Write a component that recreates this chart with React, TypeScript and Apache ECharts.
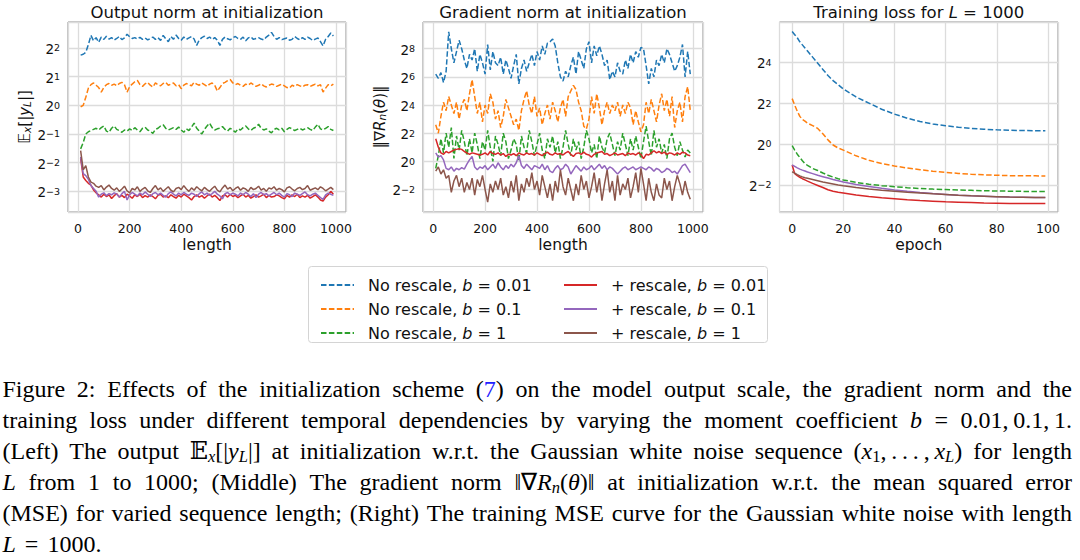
import React, { useEffect, useRef } from 'react';
import * as echarts from 'echarts';

// ---------- data (values are log2 of the plotted quantity) ----------
const lengths = [10,20,30,40,50,60,70,80,90,100,110,120,130,140,150,160,170,180,190,200,210,220,230,240,250,260,270,280,290,300,310,320,330,340,350,360,370,380,390,400,410,420,430,440,450,460,470,480,490,500,510,520,530,540,550,560,570,580,590,600,610,620,630,640,650,660,670,680,690,700,710,720,730,740,750,760,770,780,790,800,810,820,830,840,850,860,870,880,890,900,910,920,930,940,950,960,970,980,990];
const epochs = [0,1,2,3,4,5,6,8,10,12,14,16,18,20,25,30,35,40,45,50,55,60,65,70,75,80,85,90,95,99];

const seriesNames = ['No rescale, b = 0.01','No rescale, b = 0.1','No rescale, b = 1','+ rescale, b = 0.01','+ rescale, b = 0.1','+ rescale, b = 1'];
const seriesColors = ['#1f77b4','#ff7f0e','#2ca02c','#d62728','#9467bd','#8c564b'];

// Panel 1: output norm E_x[|y_L|] (log2)
const outNoRescale001 = [1.75,1.78,1.85,2.12,2.44,2.25,2.36,2.2,2.38,2.3,2.41,2.31,2.36,2.27,2.33,2.4,2.29,2.35,2.48,2.39,2.33,2.36,2.31,2.37,2.3,2.35,2.28,2.33,2.38,2.3,2.36,2.26,2.44,2.32,2.22,2.4,2.3,2.45,2.33,2.27,2.38,2.3,2.35,2.4,2.31,2.09,2.28,2.36,2.41,2.33,2.38,2.3,2.36,2.27,2.09,2.3,2.38,2.32,2.28,2.36,2.4,2.33,2.3,2.38,2.25,2.35,2.39,2.3,2.33,2.36,2.31,2.28,2.38,2.45,2.54,2.4,2.3,2.36,2.29,2.32,2.35,2.27,2.3,2.4,2.33,2.28,2.36,2.3,2.38,2.33,2.26,2.31,2.35,2.22,2.07,2.3,2.4,2.52,2.42];
const outNoRescale01 = [-0.05,0.0,0.28,0.6,0.72,0.78,0.7,0.62,0.46,0.62,0.72,0.76,0.7,0.74,0.68,0.76,0.8,0.72,0.46,0.65,0.74,0.82,0.87,0.72,0.66,0.75,0.8,0.7,0.64,0.78,0.72,0.68,0.76,0.8,0.7,0.74,0.78,0.68,0.72,0.58,0.7,0.76,0.72,0.68,0.8,0.74,0.7,0.78,0.72,0.66,0.74,0.78,0.7,0.5,0.62,0.76,0.8,0.86,0.9,0.78,0.72,0.76,0.7,0.66,0.74,0.7,0.78,0.72,0.66,0.7,0.75,0.68,0.64,0.7,0.74,0.72,0.66,0.7,0.74,0.68,0.62,0.6,0.7,0.66,0.72,0.68,0.64,0.7,0.72,0.66,0.7,0.74,0.68,0.72,0.46,0.6,0.72,0.68,0.74];
const outNoRescale1 = [-1.52,-1.3,-1.0,-0.92,-0.88,-0.84,-0.8,-0.86,-0.78,-0.72,-0.9,-0.94,-0.8,-0.72,-0.84,-0.88,-0.94,-0.86,-0.9,-0.82,-0.88,-0.78,-0.86,-0.92,-0.8,-0.76,-0.86,-0.9,-0.98,-0.84,-0.8,-0.72,-0.68,-0.8,-0.86,-0.82,-0.78,-0.84,-0.76,-0.86,-0.94,-0.82,-0.88,-0.76,-0.62,-0.8,-0.9,-1.0,-0.84,-0.72,-0.62,-0.78,-0.86,-0.82,-0.8,-0.74,-0.84,-0.9,-0.8,-0.86,-0.94,-0.82,-0.86,-0.78,-0.72,-0.82,-0.88,-0.8,-0.76,-0.66,-0.8,-0.86,-0.82,-0.9,-0.96,-0.84,-0.8,-0.86,-0.8,-0.92,-0.84,-0.78,-0.82,-0.88,-0.84,-0.8,-0.86,-0.82,-0.78,-0.84,-0.88,-0.76,-0.66,-0.82,-0.86,-0.8,-0.74,-0.84,-0.88];
const outRescale001 = [-1.85,-2.5,-2.62,-2.72,-2.78,-2.95,-3.05,-3.12,-3.2,-3.1,-3.18,-3.12,-3.25,-3.15,-3.08,-3.2,-3.14,-3.22,-3.1,-3.16,-3.24,-3.12,-3.18,-3.1,-3.22,-3.15,-3.2,-3.12,-3.18,-3.26,-3.14,-3.1,-3.2,-3.16,-3.22,-3.12,-3.18,-3.24,-3.14,-3.2,-3.1,-3.16,-3.22,-3.3,-3.18,-3.12,-3.2,-3.15,-3.24,-3.16,-3.1,-3.2,-3.14,-3.22,-3.32,-3.16,-3.12,-3.2,-3.1,-3.18,-3.14,-3.22,-3.16,-3.1,-3.2,-3.14,-3.24,-3.18,-3.12,-3.2,-3.16,-3.1,-3.22,-3.14,-3.2,-3.18,-3.12,-3.16,-3.22,-3.26,-3.14,-3.2,-3.12,-3.18,-3.1,-3.22,-3.16,-3.2,-3.14,-3.24,-3.18,-3.12,-3.2,-3.3,-3.34,-3.2,-3.12,-3.0,-3.1];
const outRescale01 = [-1.8,-2.38,-2.45,-2.58,-2.8,-2.9,-3.0,-3.2,-3.1,-3.05,-3.15,-3.08,-3.12,-3.05,-3.1,-3.2,-3.08,-3.0,-3.3,-3.12,-3.04,-3.1,-3.16,-3.06,-3.12,-3.02,-3.1,-3.18,-3.08,-3.04,-3.12,-3.06,-3.14,-3.2,-3.08,-3.02,-3.1,-3.16,-3.06,-3.12,-3.04,-3.1,-3.14,-3.06,-3.1,-3.18,-3.08,-3.02,-3.12,-3.06,-3.14,-3.08,-3.0,-3.1,-3.16,-3.26,-3.08,-3.04,-3.12,-3.06,-3.1,-3.16,-3.06,-3.12,-3.04,-3.1,-3.18,-3.08,-3.22,-3.1,-3.04,-3.12,-3.08,-3.16,-3.1,-3.04,-3.12,-3.06,-3.14,-3.2,-3.08,-3.12,-3.18,-3.06,-3.1,-3.14,-3.08,-3.02,-3.12,-3.16,-3.1,-3.06,-3.14,-3.22,-3.28,-3.12,-3.06,-3.1,-3.14];
const outRescale1 = [-1.58,-2.25,-2.1,-2.5,-2.68,-2.72,-2.82,-2.86,-2.8,-2.95,-2.85,-2.78,-2.9,-2.96,-2.88,-3.0,-2.92,-2.82,-2.98,-3.05,-2.9,-2.95,-2.84,-3.0,-2.92,-2.86,-2.98,-3.04,-2.9,-2.8,-2.95,-2.88,-3.0,-2.92,-2.84,-2.96,-3.02,-2.9,-2.86,-2.94,-2.8,-2.92,-3.0,-2.88,-2.96,-2.84,-2.92,-2.98,-2.86,-2.94,-3.0,-2.9,-2.82,-2.96,-3.02,-2.88,-2.78,-2.92,-2.86,-2.98,-2.9,-2.84,-2.96,-2.88,-2.92,-3.0,-2.86,-2.94,-2.9,-2.82,-2.96,-2.9,-3.0,-2.88,-2.92,-2.84,-2.96,-2.9,-2.94,-3.02,-2.88,-2.84,-2.92,-2.98,-2.9,-2.86,-2.94,-2.9,-2.8,-2.96,-2.92,-2.88,-2.94,-2.84,-2.9,-2.98,-2.92,-2.86,-2.94];

// Panel 2: gradient norm ||grad R_n(theta)|| (log2)
const gradNoRescale001 = [6.2,5.9,6.3,5.6,6.4,9.2,8.0,7.0,7.8,8.6,8.0,7.2,6.6,7.6,7.2,8.0,6.4,7.6,7.0,6.2,8.3,6.5,7.8,7.0,6.8,7.4,6.2,7.2,6.6,5.9,6.8,7.6,5.5,6.6,7.2,6.4,7.0,7.6,6.8,7.8,7.2,8.2,7.6,8.4,8.5,8.7,8.2,7.0,6.0,5.7,6.4,6.0,6.8,7.4,6.2,7.8,7.2,6.6,8.0,8.5,7.0,8.2,7.5,8.2,7.6,6.8,7.2,5.8,6.4,6.0,7.0,6.4,6.2,7.2,6.6,7.6,7.0,7.8,7.4,8.1,8.0,6.8,5.5,6.6,6.0,7.2,6.8,7.6,7.0,8.0,7.6,7.0,6.4,6.8,7.4,8.3,6.0,7.8,6.2];
const gradNoRescale01 = [2.6,2.0,3.2,4.2,3.6,4.6,4.0,3.4,4.2,3.0,4.0,4.4,3.6,4.8,5.8,4.6,3.4,4.2,2.8,4.0,3.4,4.8,4.2,3.0,3.6,2.4,3.2,4.4,3.8,3.2,2.6,3.0,2.2,3.6,4.4,5.0,4.0,3.4,4.6,3.2,3.8,2.6,3.4,4.0,3.0,4.2,3.6,2.8,3.8,4.4,3.2,4.6,5.0,5.4,5.1,4.2,3.6,2.5,2.3,3.0,4.6,3.4,4.8,3.8,2.6,3.6,4.2,3.4,4.0,3.6,4.2,3.2,4.0,3.4,4.2,3.8,2.6,3.6,2.8,2.1,2.6,4.2,3.4,4.4,3.6,2.8,4.0,4.8,3.6,4.4,3.2,4.6,2.4,3.6,4.2,2.8,4.6,5.3,3.6];
const gradNoRescale1 = [-0.5,0.4,1.6,0.6,2.0,1.0,2.4,0.2,1.8,0.8,2.2,1.4,0.4,1.6,0.6,2.0,1.2,0.2,1.4,0.8,2.2,1.0,0.0,1.8,1.2,0.4,2.0,1.4,0.2,0.8,1.6,1.2,0.0,1.8,1.0,0.6,2.2,1.4,0.4,1.2,2.0,0.8,0.2,1.6,1.0,1.8,0.6,1.4,0.2,1.0,2.2,1.2,0.4,1.6,0.8,1.4,0.2,1.0,2.2,1.6,0.6,1.2,0.2,1.8,1.0,0.6,1.6,2.0,1.2,0.4,1.4,0.8,2.0,1.2,0.4,1.6,0.8,1.8,1.0,0.2,1.4,2.5,1.4,0.4,2.2,1.0,1.6,0.6,1.2,0.2,1.6,2.0,1.0,0.4,1.4,0.8,0.3,0.8,0.6];
const gradRescale001 = [1.6,1.0,0.6,0.5,0.7,0.6,0.7,0.8,0.85,0.9,0.85,0.7,0.6,0.5,0.6,0.55,0.5,0.45,0.5,0.6,0.45,0.7,0.55,0.5,0.6,0.45,0.55,0.35,0.5,0.45,0.55,0.4,0.6,0.5,0.45,0.6,0.5,0.55,0.45,0.6,0.5,0.4,0.55,0.65,0.5,0.45,0.6,0.5,0.55,0.45,0.6,0.7,0.5,0.35,0.55,0.6,0.5,0.65,0.5,0.45,0.3,0.5,0.6,0.65,0.7,0.5,0.55,0.4,0.5,0.6,0.45,0.5,0.55,0.4,0.6,0.5,0.55,0.45,0.6,0.5,0.2,0.5,0.45,0.6,0.75,0.6,0.7,0.55,0.65,0.5,0.6,0.55,0.45,0.6,0.5,0.65,0.6,0.45,0.4];
const gradRescale01 = [0.6,0.3,0.4,0.1,-0.5,-0.6,-0.4,-0.7,-0.5,-0.6,-0.45,-0.55,-0.2,0.1,0.35,-0.4,-0.6,-0.4,-0.5,-0.3,-0.6,-0.4,-0.2,-0.5,-0.1,-0.4,-0.6,-0.3,-0.5,-0.2,-0.4,-0.1,0.4,-0.3,-0.5,-0.2,-0.4,-0.6,-0.3,-0.4,-0.5,-0.2,-0.6,-0.3,-0.7,-0.8,-0.5,-0.3,-0.6,-0.5,-0.2,-0.4,-0.9,-0.6,-0.3,-0.5,-0.7,-0.4,-0.6,-0.5,-0.3,-0.6,-0.4,-0.2,-0.5,-0.3,-0.6,-0.4,-0.5,-0.7,-0.9,-0.7,-0.5,-0.4,-0.6,-0.5,-0.4,-0.6,-0.5,-0.4,-0.5,-0.6,-0.4,-0.5,-0.7,-0.5,-0.6,-0.8,-0.7,-0.5,-0.6,-0.8,-0.7,-0.9,-0.6,-0.3,-0.2,-0.5,-0.8];
const gradRescale1 = [-0.7,-0.4,-0.9,-0.6,-1.2,-1.0,-2.2,-1.4,-1.0,-1.8,-1.2,-2.2,-1.5,-2.0,-1.2,-2.4,-1.3,-1.8,-1.0,-2.0,-2.9,-1.6,-2.2,-1.4,-2.0,-1.2,-2.4,-1.8,-2.6,-1.4,-2.2,-1.0,-2.8,-1.6,-2.2,-1.2,-1.8,-0.8,-2.0,-1.4,-2.4,-1.0,-1.8,-2.6,-1.6,-2.8,-1.4,-2.2,-0.6,-1.8,-2.4,-1.2,-2.0,-2.8,-1.6,-2.4,-1.0,-2.0,-1.4,-2.6,-1.8,-0.8,-2.2,-1.2,-2.8,-1.6,-0.6,-2.2,-1.4,-2.8,-1.0,-2.4,-1.6,-2.0,-1.2,-2.6,-1.8,-0.8,-2.2,-0.5,-1.6,-2.8,-1.2,-2.2,-2.8,-1.6,-2.4,-2.6,-1.2,-2.0,-1.4,-2.8,-1.8,-1.0,-1.6,-2.4,-1.4,-2.2,-2.7];

// Panel 3: training loss for L = 1000 (log2)
const lossNoRescale001 = [5.5,5.35,5.2,5.0,4.85,4.7,4.55,4.25,3.95,3.65,3.35,3.1,2.9,2.69,2.3,2.0,1.7,1.46,1.26,1.1,0.98,0.89,0.82,0.76,0.72,0.69,0.67,0.66,0.65,0.65];
const lossNoRescale01 = [2.22,1.9,1.6,1.35,1.2,1.12,1.02,0.9,0.76,0.5,0.2,-0.05,-0.2,-0.3,-0.58,-0.8,-0.96,-1.08,-1.18,-1.26,-1.33,-1.39,-1.44,-1.48,-1.51,-1.53,-1.55,-1.56,-1.56,-1.57];
const lossNoRescale1 = [-0.08,-0.3,-0.5,-0.66,-0.82,-0.96,-1.05,-1.2,-1.3,-1.42,-1.53,-1.62,-1.7,-1.76,-1.88,-1.97,-2.04,-2.09,-2.14,-2.18,-2.21,-2.23,-2.25,-2.27,-2.29,-2.3,-2.31,-2.32,-2.33,-2.33];
const lossRescale001 = [-1.03,-1.45,-1.55,-1.63,-1.7,-1.76,-1.82,-1.93,-2.03,-2.13,-2.24,-2.31,-2.36,-2.4,-2.5,-2.57,-2.63,-2.68,-2.73,-2.77,-2.8,-2.83,-2.85,-2.87,-2.89,-2.9,-2.91,-2.92,-2.92,-2.92];
const lossRescale01 = [-1.03,-1.1,-1.17,-1.23,-1.28,-1.32,-1.37,-1.45,-1.53,-1.6,-1.67,-1.74,-1.8,-1.86,-1.98,-2.08,-2.17,-2.25,-2.32,-2.38,-2.43,-2.47,-2.51,-2.54,-2.56,-2.58,-2.6,-2.61,-2.62,-2.62];
const lossRescale1 = [-1.36,-1.43,-1.5,-1.56,-1.61,-1.65,-1.68,-1.74,-1.8,-1.86,-1.91,-1.96,-2.01,-2.05,-2.13,-2.2,-2.26,-2.31,-2.36,-2.4,-2.44,-2.47,-2.51,-2.54,-2.56,-2.58,-2.6,-2.61,-2.62,-2.62];

const panelTitles = ['Output norm at initialization', 'Gradient norm at initialization', 'Training loss for {i|L} = 1000'];
const captionLines = [
  'Figure 2: Effects of the initialization scheme ({bl|7}) on the model output scale, the gradient norm and the',
  'training loss under different temporal dependencies by varying the moment coefficient {i|b} = 0.01,\u20090.1,\u20091.',
  '(Left) The output {bb|\u{1D53C}}{isub|x}[|{i|y}{isub|L}|] at initialization w.r.t. the Gaussian white noise sequence ({i|x}{sub|1},\u2009.\u2009.\u2009.\u2009,\u2009{i|x}{isub|L}) for length',
  '{i|L} from 1 to 1000; (Middle) The gradient norm \u2016\u2207{i|R}{isub|n}({i|\u03B8})\u2016 at initialization w.r.t. the mean squared error',
  '(MSE) for varied sequence length; (Right) The training MSE curve for the Gaussian white noise with length',
  '{i|L} = 1000.',
];

// ---------- helpers ----------
const SANS = 'DejaVu Sans';
const SERIF = 'Liberation Serif';
const CAP_FS = 24;
const CAP_SUB = 16.5;
const CAP_LH = 28;

function parseRich(s: string) {
  const out: { tag: string; text: string }[] = [];
  const re = /\{(\w+)\|([^}]*)\}|([^{]+)/g;
  let m: RegExpExecArray | null;
  while ((m = re.exec(s))) {
    if (m[1]) out.push({ tag: m[1], text: m[2] });
    else out.push({ tag: 'n', text: m[3] });
  }
  return out;
}

const capFonts: Record<string, string> = {
  n: `${CAP_FS}px "${SERIF}"`,
  bl: `${CAP_FS}px "${SERIF}"`,
  i: `italic ${CAP_FS}px "${SERIF}"`,
  sub: `${CAP_SUB}px "${SERIF}"`,
  isub: `italic ${CAP_SUB}px "${SERIF}"`,
  bb: `${CAP_FS}px "DejaVu Serif"`,
};

const capRich = {
  i: { fontStyle: 'italic', fontSize: CAP_FS, fontFamily: SERIF, lineHeight: CAP_LH, fill: '#000' },
  bl: { fontSize: CAP_FS, fontFamily: SERIF, lineHeight: CAP_LH, fill: '#2020ff' },
  bb: { fontSize: CAP_FS, fontFamily: 'DejaVu Serif', lineHeight: CAP_LH, fill: '#000' },
  sub: { fontSize: CAP_SUB, fontFamily: SERIF, lineHeight: CAP_SUB, verticalAlign: 'bottom', fill: '#000' },
  isub: { fontStyle: 'italic', fontSize: CAP_SUB, fontFamily: SERIF, lineHeight: CAP_SUB, verticalAlign: 'bottom', fill: '#000' },
};

function buildCaption(): any[] {
  const ctx = document.createElement('canvas').getContext('2d')!;
  const measure = (word: string) =>
    parseRich(word).reduce((w, seg) => {
      ctx.font = capFonts[seg.tag] || capFonts.n;
      return w + ctx.measureText(seg.text).width;
    }, 0);
  const x0 = 2.5;
  const x1 = 1072;
  const els: any[] = [];
  captionLines.forEach((line, li) => {
    const y = 389 + li * 31;
    const last = li === captionLines.length - 1;
    const words = line.split(/ +/);
    const widths = words.map(measure);
    const total = widths.reduce((a, b) => a + b, 0);
    const gap = last ? 9 : words.length < 2 ? 0 : (x1 - x0 - total) / (words.length - 1);
    let x = x0;
    words.forEach((w, wi) => {
      els.push({
        type: 'text', x, y, silent: true,
        style: { text: w, fill: '#000', fontSize: CAP_FS, fontFamily: SERIF, lineHeight: CAP_LH, align: 'left', verticalAlign: 'middle', rich: capRich },
      });
      x += widths[wi] + gap;
    });
  });
  return els;
}

const pow2Label = (v: number) => {
  const k = Math.round(v);
  if (Math.abs(v - k) > 1e-6) return '';
  const s = k < 0 ? '\u2212' + -k : String(k);
  return `{b|2}{s|${s}}`;
};
const stepLabel = (step: number) => (v: number) => (Math.abs(v / step - Math.round(v / step)) < 1e-6 ? String(Math.round(v)) : '');

const tickRich = {
  b: { fontSize: 13.5, fontFamily: SANS, color: '#111', lineHeight: 16, verticalAlign: 'bottom', padding: [5, 0, 0, 0] },
  s: { fontSize: 9.5, fontFamily: SANS, color: '#111', lineHeight: 10, verticalAlign: 'top', padding: [3, 0, 0, 0] },
};

export default function App() {
  const ref = useRef<HTMLDivElement>(null);
  useEffect(() => {
    if (!ref.current) return;
    const chart = echarts.init(ref.current, undefined, { renderer: 'svg' });

    const grids = [
      { left: 68, top: 22, width: 278, height: 190 },
      { left: 423, top: 22, width: 280, height: 190 },
      { left: 779.5, top: 22, width: 278.5, height: 190 },
    ];
    const xRanges = [[-39, 1039], [-39, 1039], [-4.95, 103.95]];
    const yRanges = [[-3.72, 2.905], [-3.6, 9.9], [-3.33, 5.97]];
    const ySplit = [5, 6, 5];
    const xNames = ['length', 'length', 'epoch'];
    const xSteps = [200, 200, 20];
    const yNames = [
      '{bb|\u{1D53C}}{sub|x}{n|[|}{i|y}{sub|L}{n||]}',
      '{n|\u2016\u2207}{i|R}{sub|n}{n|(}{i|\u03B8}{n|)\u2016}',
      '',
    ];

    const panelData = [
      [outNoRescale001, outNoRescale01, outNoRescale1, outRescale001, outRescale01, outRescale1],
      [gradNoRescale001, gradNoRescale01, gradNoRescale1, gradRescale001, gradRescale01, gradRescale1],
      [lossNoRescale001, lossNoRescale01, lossNoRescale1, lossRescale001, lossRescale01, lossRescale1],
    ];
    const xs = [lengths, lengths, epochs];

    const series: any[] = [];
    panelData.forEach((arrs, p) => {
      arrs.forEach((arr, k) => {
        series.push({
          type: 'line',
          name: seriesNames[k],
          xAxisIndex: p,
          yAxisIndex: p,
          data: xs[p].map((x, i) => [x, arr[i]]).filter((d) => d[1] !== undefined),
          symbol: 'none',
          showSymbol: false,
          silent: true,
          clip: true,
          lineStyle: { color: seriesColors[k], width: 1.5, type: k < 3 ? [5.5, 2.4] : 'solid' },
          itemStyle: { color: seriesColors[k] },
          emphasis: { disabled: true },
        });
      });
    });

    const nameRich = {
      n: { fontSize: 15, fontFamily: SANS, color: '#111' },
      bb: { fontSize: 15, fontFamily: SANS, color: '#111' },
      i: { fontSize: 15, fontFamily: SANS, fontStyle: 'italic', color: '#111' },
      sub: { fontSize: 10.5, fontFamily: SANS, fontStyle: 'italic', color: '#111', verticalAlign: 'bottom', lineHeight: 11 },
    };

    const graphic: any[] = [
      {
        type: 'rect', z: 0, silent: true,
        shape: { x: 308.5, y: 266.5, width: 459, height: 76, r: 3 },
        style: { fill: '#fff', stroke: '#d4d4d4', lineWidth: 1 },
      },
      ...panelTitles.map((t, p) => ({
        type: 'text', silent: true,
        x: grids[p].left + grids[p].width / 2, y: 12.5,
        style: {
          text: t, fill: '#111', fontSize: 16.5, fontFamily: SANS, align: 'center', verticalAlign: 'middle',
          rich: { i: { fontStyle: 'italic', fontSize: 16.5, fontFamily: SANS, fill: '#111' } },
        },
      })),
      ...buildCaption(),
    ];

    const legendBase = {
      orient: 'vertical',
      top: 271,
      itemGap: 6,
      itemWidth: 33,
      itemHeight: 18,
      selectedMode: false,
      itemStyle: { opacity: 0, borderWidth: 0 },
      formatter: (name: string) => name.replace('b = ', '{i|b} = '),
      textStyle: {
        fontSize: 16, fontFamily: SANS, color: '#111', lineHeight: 18, padding: [0, 0, 0, 9],
        rich: { i: { fontSize: 16, fontFamily: SANS, fontStyle: 'italic', color: '#111' } },
      },
    };

    chart.setOption({
      animation: false,
      backgroundColor: '#fff',
      grid: grids.map((g) => ({ ...g, show: true, borderColor: '#8a8a8a', borderWidth: 1, backgroundColor: 'transparent' })),
      xAxis: grids.map((g, p) => ({
        type: 'value', gridIndex: p, min: xRanges[p][0], max: xRanges[p][1], splitNumber: 5,
        axisLine: { show: false }, axisTick: { show: false },
        splitLine: { show: true, lineStyle: { color: '#dcdcdc', width: 1.3 } },
        axisLabel: { formatter: stepLabel(xSteps[p]), fontSize: 12.5, fontFamily: SANS, color: '#111', margin: 8, lineHeight: 16 },
        name: xNames[p], nameLocation: 'middle', nameGap: 22,
        nameTextStyle: { fontSize: 15.5, fontFamily: SANS, color: '#111' },
      })),
      yAxis: grids.map((g, p) => ({
        type: 'value', gridIndex: p, min: yRanges[p][0], max: yRanges[p][1], splitNumber: ySplit[p],
        axisLine: { show: false }, axisTick: { show: false },
        splitLine: { show: true, lineStyle: { color: '#dcdcdc', width: 1.3 } },
        axisLabel: { formatter: pow2Label, margin: 8, rich: tickRich },
        name: yNames[p], nameLocation: 'middle', nameRotate: 90, nameGap: 36,
        nameTextStyle: { fontSize: 15, fontFamily: SANS, color: '#111', rich: nameRich },
      })),
      legend: [
        { ...legendBase, left: 315, data: seriesNames.slice(0, 3) },
        { ...legendBase, left: 558, data: seriesNames.slice(3) },
      ],
      graphic,
      series,
    });

    return () => chart.dispose();
  }, []);

  return (
    <div
      ref={ref}
      style={{ position: 'absolute', left: 0, top: 0, width: 1080, height: 560, background: '#fff' }}
    />
  );
}
